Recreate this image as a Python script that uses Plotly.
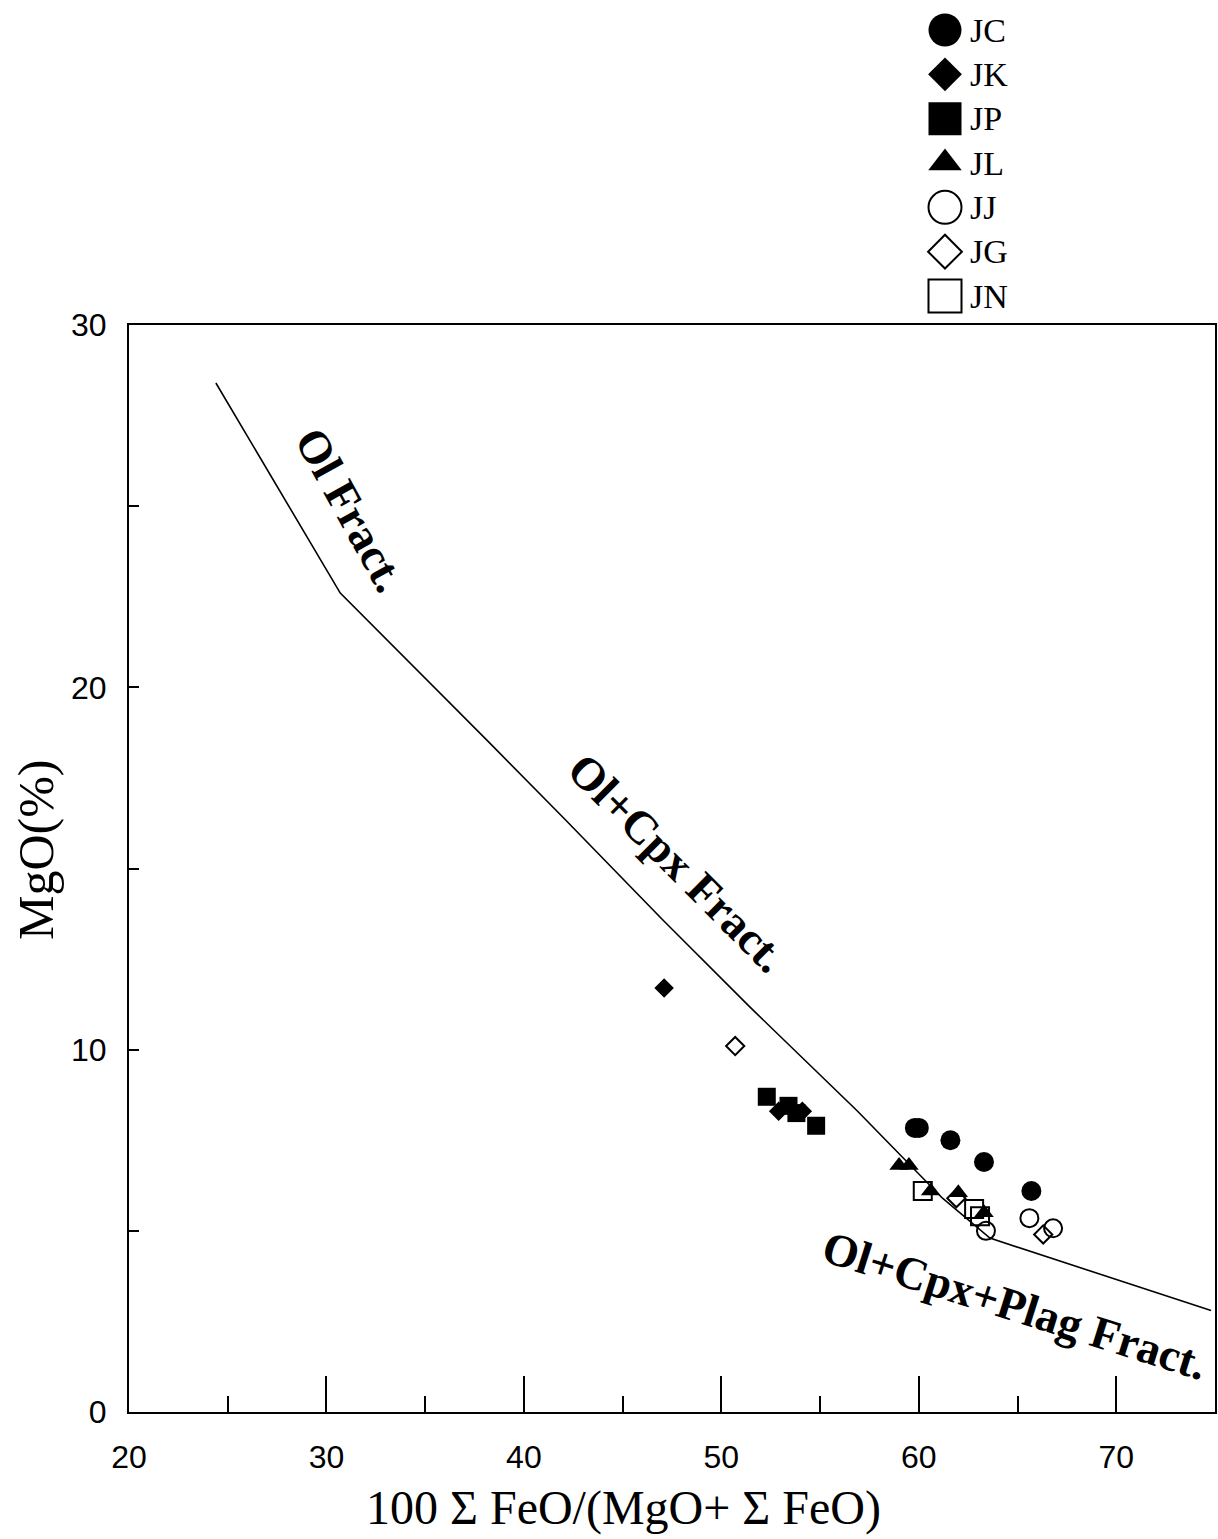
import plotly.graph_objects as go

# Fractionation trend (Ol -> Ol+Cpx -> Ol+Cpx+Plag)
trend_x = [24.4, 30.7, 38.2, 42.0, 47.0, 51.4, 56.9, 61.2, 63.6, 68.6, 74.8]
trend_y = [28.4, 22.6, 18.5, 16.4, 13.6, 11.2, 8.3, 5.9, 4.8, 3.9, 2.8]

# Sample groups: x = 100*FeO/(MgO+FeO), y = MgO (%)
series_names = ["JC", "JK", "JP", "JL", "JJ", "JG", "JN"]
JC_x = [59.8, 60.0, 61.6, 63.3, 65.7]
JC_y = [7.84, 7.84, 7.5, 6.9, 6.1]
JK_x = [47.1, 52.9, 54.1]
JK_y = [11.7, 8.3, 8.3]
JP_x = [52.3, 53.4, 53.8, 54.8]
JP_y = [8.7, 8.45, 8.25, 7.9]
JL_x = [59.0, 59.5, 60.6, 62.0, 63.3]
JL_y = [6.8, 6.8, 6.1, 6.05, 5.5]
JJ_x = [63.4, 65.6, 66.8]
JJ_y = [5.0, 5.35, 5.07]
JG_x = [50.7, 61.9, 66.3]
JG_y = [10.1, 5.9, 4.9]
JN_x = [60.2, 62.8, 63.1]
JN_y = [6.1, 5.6, 5.4]

x_ticks = [20, 30, 40, 50, 60, 70]
y_ticks = [0, 10, 20, 30]

series = {
    "JC": (JC_x, JC_y), "JK": (JK_x, JK_y), "JP": (JP_x, JP_y), "JL": (JL_x, JL_y),
    "JJ": (JJ_x, JJ_y), "JG": (JG_x, JG_y), "JN": (JN_x, JN_y),
}
styles = {
    "JC": dict(symbol="circle", size=20, color="black", line=dict(width=0)),
    "JK": dict(symbol="diamond", size=15, color="black", line=dict(width=0)),
    "JP": dict(symbol="square", size=18, color="black", line=dict(width=0)),
    "JL": dict(symbol="triangle-up", size=17, color="black", line=dict(width=0)),
    "JJ": dict(symbol="circle-open", size=18, color="black", line=dict(width=2, color="black")),
    "JG": dict(symbol="diamond-open", size=14, color="black", line=dict(width=2, color="black")),
    "JN": dict(symbol="square-open", size=18, color="black", line=dict(width=2, color="black")),
}
legend_sizes = {"JC": 33, "JK": 26, "JP": 33, "JL": 29, "JJ": 33, "JG": 26, "JN": 33}

W, H = 1218, 1539
L, R, T, B = 129, 3, 10, 127
plot_h = H - T - B
plot_w = W - L - R
main_top = (1412 - 325) / plot_h

fig = go.Figure()

fig.add_trace(go.Scatter(x=trend_x, y=trend_y, mode="lines",
                         line=dict(color="black", width=1.6), showlegend=False,
                         hoverinfo="skip"))

for name in series_names:
    xs, ys = series[name]
    fig.add_trace(go.Scatter(x=xs, y=ys, mode="markers", name=name,
                             marker=styles[name], showlegend=False))

# Key drawn in its own small axes above the plot
for i, name in enumerate(series_names):
    st = dict(styles[name])
    st["size"] = legend_sizes[name]
    fig.add_trace(go.Scatter(x=[45], y=[-i], mode="markers", marker=st,
                             xaxis="x2", yaxis="y2", showlegend=False, hoverinfo="skip",
                             cliponaxis=False))
    fig.add_annotation(x=68, y=-i, xref="x2", yref="y2", text=name, showarrow=False,
                       xanchor="left", yanchor="middle",
                       font=dict(family="Liberation Serif", size=34, color="black"))

lab_font = dict(family="Liberation Serif", size=46, color="black", weight="bold")
fig.add_annotation(x=31.2, y=24.9, text="Ol Fract.", textangle=61, showarrow=False,
                   font=lab_font, xanchor="center", yanchor="middle")
fig.add_annotation(x=47.8, y=15.15, text="Ol+Cpx Fract.", textangle=45, showarrow=False,
                   font=lab_font, xanchor="center", yanchor="middle")
fig.add_annotation(x=64.85, y=2.95, text="Ol+Cpx+Plag Fract.", textangle=17.5, showarrow=False,
                   font=lab_font, xanchor="center", yanchor="middle")

title_font = dict(family="Liberation Serif", size=48, color="black")
fig.add_annotation(x=(623 - L) / plot_w, y=(1412 - 1508) / plot_h, xref="paper", yref="paper",
                   text="100 Σ FeO/(MgO+ Σ FeO)", showarrow=False, font=title_font,
                   xanchor="center", yanchor="middle")
fig.add_annotation(x=(36 - L) / plot_w, y=(1412 - 850) / plot_h, xref="paper", yref="paper",
                   text="MgO(%)", textangle=-90, showarrow=False, font=dict(title_font, size=50),
                   xanchor="center", yanchor="middle")

tick_font = dict(family="Liberation Sans", size=32, color="black")
fig.update_layout(
    width=W, height=H,
    margin=dict(l=L, r=R, t=T, b=B, autoexpand=False),
    paper_bgcolor="white", plot_bgcolor="white",
    showlegend=False,
    xaxis=dict(range=[20, 75], domain=[0, 1], tickvals=x_ticks, ticks="inside", ticklen=36,
               tickwidth=1.5, tickcolor="black", showline=True, linecolor="black", linewidth=2,
               mirror=True, showgrid=False, zeroline=False, tickfont=tick_font,
               ticklabelstandoff=16,
               minor=dict(dtick=5, tick0=0, ticks="inside", ticklen=16, tickwidth=1.5,
                          tickcolor="black", showgrid=False)),
    yaxis=dict(range=[0, 30], domain=[0, main_top], tickvals=y_ticks, ticks="inside", ticklen=10,
               tickwidth=1.5, tickcolor="black", showline=True, linecolor="black", linewidth=2,
               mirror=True, showgrid=False, zeroline=False, tickfont=tick_font,
               ticklabelstandoff=14,
               minor=dict(dtick=5, tick0=0, ticks="inside", ticklen=10, tickwidth=1.5,
                          tickcolor="black", showgrid=False)),
    xaxis2=dict(domain=[(900 - L) / plot_w, (1200 - L) / plot_w], range=[0, 300],
                visible=False, anchor="y2"),
    yaxis2=dict(domain=[(1412 - 320) / plot_h, 1.0], range=[-6.541, 0.451],
                visible=False, anchor="x2"),
)

fig.write_html("out.html")
